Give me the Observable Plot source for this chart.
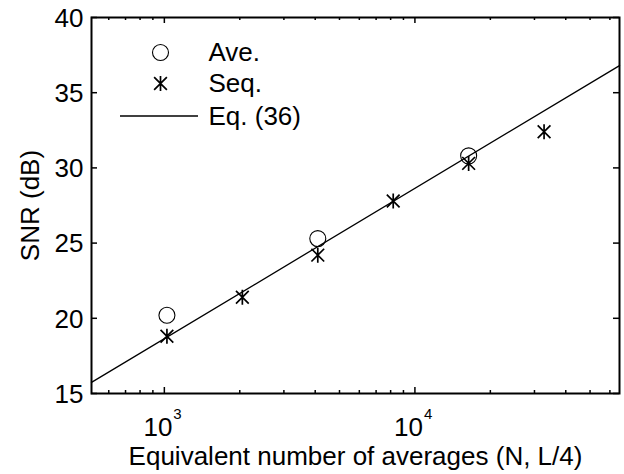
<!DOCTYPE html>
<html>
<head>
<meta charset="utf-8">
<script src="https://cdn.jsdelivr.net/npm/d3@7"></script>
<script src="https://cdn.jsdelivr.net/npm/@observablehq/plot@0.6"></script>
<style>
  html, body { margin: 0; padding: 0; background: #fff; }
</style>
</head>
<body>
<div id="chart"></div>
<script>
// ---- data ----
const aveN = [1024, 4096, 16384];
const aveSNR = [20.2, 25.3, 30.8];
const seqN = [1024, 2048, 4096, 8192, 16384, 32768];
const seqSNR = [18.8, 21.4, 24.2, 27.8, 30.3, 32.4];
const eqN = [512, 65536];
const eqSNR = [15.74, 36.8];
const xDomain = [512, 65536];
const yDomain = [15, 40];
const yTicks = [15, 20, 25, 30, 35, 40];
const xTickExps = [3, 4];
const xMinorTicks = [600, 700, 800, 900, 2000, 3000, 4000, 5000, 6000, 7000, 8000, 9000, 20000, 30000, 40000, 50000, 60000];
const legendLabels = ["Ave.", "Seq.", "Eq. (36)"];
const xLabel = "Equivalent number of averages (N, L/4)";
const yLabel = "SNR (dB)";

const ave = aveN.map((n, i) => ({n, snr: aveSNR[i]}));
const seq = seqN.map((n, i) => ({n, snr: seqSNR[i]}));
const eq = eqN.map((n, i) => ({n, snr: eqSNR[i]}));

// ---- layout ----
const W = 624, H = 474;
const mL = 91, mR = 5, mT = 17, mB = 81;
const fw = W - mL - mR, fh = H - mT - mB;
const font = "Liberation Sans, Arial, Helvetica, sans-serif";
const fs = 26;

const asterisk = {
  draw(ctx, size) {
    const r = Math.sqrt(size / Math.PI);
    const d = r * 0.85;
    ctx.moveTo(0, -r); ctx.lineTo(0, r);
    ctx.moveTo(-d, -d); ctx.lineTo(d, d);
    ctx.moveTo(-d, d); ctx.lineTo(d, -d);
  }
};

const legendLine = (index, scales, values, dims) => {
  const g = d3.create("svg:line")
    .attr("x1", dims.marginLeft + 29)
    .attr("x2", dims.marginLeft + 107)
    .attr("y1", dims.marginTop + 99)
    .attr("y2", dims.marginTop + 99)
    .attr("stroke", "black")
    .attr("stroke-width", 1.6);
  return g.node();
};

const chart = Plot.plot({
  width: W, height: H,
  marginLeft: mL, marginRight: mR, marginTop: mT, marginBottom: mB,
  style: {fontFamily: font, background: "white", color: "black"},
  x: {type: "log", domain: xDomain, axis: null},
  y: {domain: yDomain, axis: null},
  marks: [
    // ticks (inward, on all sides)
    Plot.tickX(xTickExps, {x: d => 10 ** d, insetTop: fh - 6, stroke: "black", strokeWidth: 1.5}),
    Plot.tickX(xTickExps, {x: d => 10 ** d, insetBottom: fh - 6, stroke: "black", strokeWidth: 1.5}),
    Plot.tickX(xMinorTicks, {x: d => d, insetTop: fh - 3, stroke: "black", strokeWidth: 1.5}),
    Plot.tickX(xMinorTicks, {x: d => d, insetBottom: fh - 3, stroke: "black", strokeWidth: 1.5}),
    Plot.tickY(yTicks, {y: d => d, insetRight: fw - 6, stroke: "black", strokeWidth: 1.5}),
    Plot.tickY(yTicks, {y: d => d, insetLeft: fw - 6, stroke: "black", strokeWidth: 1.5}),
    // tick labels
    Plot.text(yTicks, {y: d => d, text: d => String(d), frameAnchor: "left", textAnchor: "end", lineAnchor: "middle", dx: -8, dy: 1, fontSize: fs, fill: "black"}),
    Plot.text(xTickExps, {x: d => 10 ** d, text: () => "10", frameAnchor: "bottom", textAnchor: "end", lineAnchor: "bottom", dx: 8, dy: 42, fontSize: fs, fill: "black"}),
    Plot.text(xTickExps, {x: d => 10 ** d, text: d => String(d), frameAnchor: "bottom", textAnchor: "start", lineAnchor: "bottom", dx: 9, dy: 25, fontSize: 15, fill: "black"}),
    // axis labels
    Plot.text([xLabel], {text: d => d, frameAnchor: "bottom", textAnchor: "middle", lineAnchor: "bottom", dy: 71, fontSize: fs, fill: "black"}),
    Plot.text([yLabel], {text: d => d, frameAnchor: "left", rotate: -90, textAnchor: "middle", lineAnchor: "middle", dx: -61, fontSize: fs, fill: "black"}),
    // data
    Plot.line(eq, {x: "n", y: "snr", stroke: "black", strokeWidth: 1.3}),
    Plot.dot(ave, {x: "n", y: "snr", r: 8, stroke: "black", strokeWidth: 1.1, fill: "none"}),
    Plot.dot(seq, {x: "n", y: "snr", r: 7.5, symbol: asterisk, stroke: "black", strokeWidth: 1.7, fill: "none"}),
    // legend
    Plot.dot([legendLabels[0]], {frameAnchor: "top-left", dx: 69, dy: 35, r: 8, stroke: "black", strokeWidth: 1.1, fill: "none"}),
    Plot.dot([legendLabels[1]], {frameAnchor: "top-left", dx: 69, dy: 66, r: 7.5, symbol: asterisk, stroke: "black", strokeWidth: 1.7, fill: "none"}),
    legendLine,
    Plot.text([legendLabels[0]], {text: d => d, frameAnchor: "top-left", textAnchor: "start", lineAnchor: "middle", dx: 117, dy: 35, fontSize: fs, fill: "black"}),
    Plot.text([legendLabels[1]], {text: d => d, frameAnchor: "top-left", textAnchor: "start", lineAnchor: "middle", dx: 117, dy: 66, fontSize: fs, fill: "black"}),
    Plot.text([legendLabels[2]], {text: d => d, frameAnchor: "top-left", textAnchor: "start", lineAnchor: "middle", dx: 117, dy: 99, fontSize: fs, fill: "black"}),
    // frame
    Plot.frame({stroke: "black", strokeWidth: 2})
  ]
});
document.getElementById("chart").appendChild(chart);
</script>
</body>
</html>
